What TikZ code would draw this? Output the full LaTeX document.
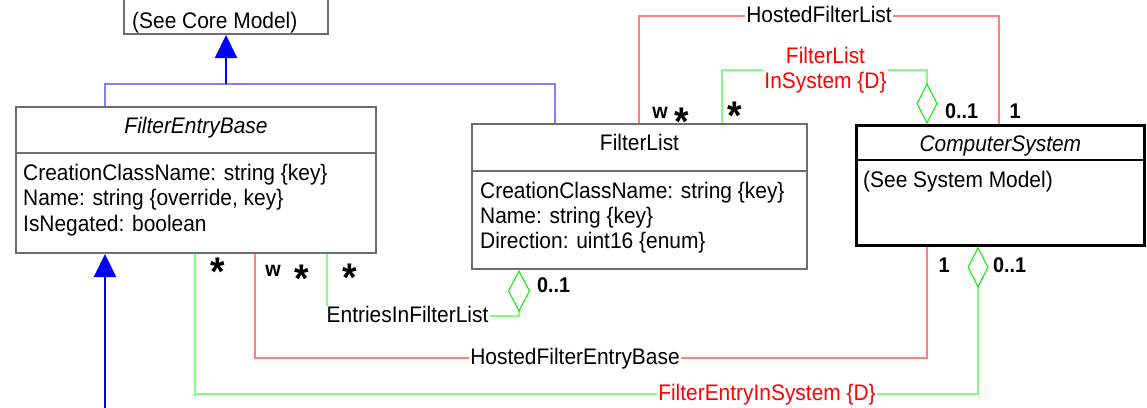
\documentclass[tikz,border=0pt]{standalone}
\usepackage{fontspec}
\setmainfont{Liberation Sans}[FakeStretch=0.93]
\usetikzlibrary{arrows.meta,calc}
\definecolor{boxgray}{RGB}{110,110,110}
\definecolor{genlight}{RGB}{128,128,255}
\definecolor{redl}{RGB}{255,128,128}
\definecolor{greenl}{RGB}{128,255,128}
\definecolor{dgreen}{RGB}{0,235,0}
\newcommand\umlstar{\raisebox{-17.2pt}[11.6pt][0pt]{*}}
\begin{document}
\begin{tikzpicture}[x=1pt,y=-1pt,
  classbox/.style={draw=boxgray,line width=2pt,inner sep=0pt,anchor=north west},
  sepline/.style={draw=boxgray,line width=2pt},
  txt/.style={font=\fontsize{22.5}{25.5}\selectfont,inner sep=0pt},
  ital/.style={font=\fontsize{22.5}{25.5}\selectfont\itshape,inner sep=0pt},
  lbl/.style={font=\fontsize{22.5}{25.5}\selectfont,inner ysep=0pt,inner xsep=1.5pt,text height=16pt,text depth=4pt},
  mult/.style={font=\fontsize{21.3}{21.3}\selectfont\bfseries,inner sep=0pt,anchor=base},
  star/.style={font=\fontsize{40}{40}\selectfont\bfseries,inner sep=0pt,anchor=center},
  genthin/.style={draw=genlight,line width=2pt},
  gen/.style={draw=blue,line width=2pt,-{Triangle[length=23pt,width=22pt]}},
  redc/.style={draw=redl,line width=2pt},
  greenc/.style={draw=greenl,line width=2pt},
  dia/.style={-{Diamond[open,length=41pt,width=21pt,line width=1pt,color=dgreen]}}
]
\useasboundingbox (0,0) rectangle (1147,407);

% class boxes
\node[classbox,minimum width=204pt,minimum height=38pt] (core) at (123,-5) {};
\node[classbox,minimum width=360pt,minimum height=146pt] (feb) at (15,106) {};
\node[classbox,minimum width=335pt,minimum height=145pt] (fl) at (471,123) {};
\node[classbox,draw=black,line width=2.7pt,minimum width=288pt,minimum height=120pt] (cs) at (855,124) {};

% separators
\draw[sepline] ($(feb.north west)+(0,47)$) -- ($(feb.north east)+(0,47)$);
\draw[sepline] ($(fl.north west)+(0,48)$) -- ($(fl.north east)+(0,48)$);
\draw[sepline,draw=black,line width=2.5pt] ($(cs.north west)+(0,36)$) -- ($(cs.north east)+(0,36)$);

% texts in boxes
\node[txt,anchor=base west] (coret) at ($(core.south west)+(9,-7)$) {(See Core Model)};
\node[ital,anchor=base] (febt) at ($(feb.north)+(0,27)$) {FilterEntryBase};
\node[txt,anchor=base west] (feba) at ($(feb.north west)+(8,74)$) {CreationClassName: string \{key\}};
\node[txt,anchor=base west] (febb) at ($(feb.north west)+(8,99.5)$) {Name: string \{override, key\}};
\node[txt,anchor=base west] (febc) at ($(feb.north west)+(8,125)$) {IsNegated: boolean};
\node[txt,anchor=base] (flt) at ($(fl.north)+(0,27)$) {FilterList};
\node[txt,anchor=base west] (fla) at ($(fl.north west)+(9,75)$) {CreationClassName: string \{key\}};
\node[txt,anchor=base west] (flb) at ($(fl.north west)+(9,100)$) {Name: string \{key\}};
\node[txt,anchor=base west] (flc) at ($(fl.north west)+(9,125)$) {Direction: uint16 \{enum\}};
\node[ital,anchor=base] (cst) at ($(cs.north)+(0,27)$) {ComputerSystem};
\node[txt,anchor=base west] (csa) at ($(cs.north west)+(8,63)$) {(See System Model)};

% generalization
\coordinate (gj) at ($(core.south)+(0,49)$);
\draw[genthin] ($(feb.north west)+(90,0)$) |- (gj) -| ($(fl.north west)+(84,0)$);
\draw[gen] (gj) -- (core.south);
\coordinate (gb) at ($(feb.south west)+(90,160)$);
\draw[gen] (gb) -- ($(feb.south west)+(90,0)$);

% HostedFilterList
\node[lbl] (hfl) at (819,16) {HostedFilterList};
\draw[redc] ($(fl.north west)+(168,0)$) |- (hfl.west);
\draw[redc] (hfl.east) -| ($(cs.north west)+(144,0)$);

% FilterListInSystem
\node[txt,text=red,align=center,inner xsep=1pt] (flis) at (825.5,70) {FilterList\\InSystem \{D\}};
\draw[greenc] ($(fl.north west)+(251,0)$) |- (flis.west);
\draw[greenc,dia] (flis.east) -| ($(cs.north west)+(72,0)$);

% EntriesInFilterList
\node[lbl,anchor=base west] (eifl) at (325,322) {EntriesInFilterList};
\coordinate (e1) at ($(feb.south west)+(312,0)$);
\draw[greenc] (e1) -- (e1 |- eifl.north);
\draw[greenc,-{Diamond[open,length=42pt,width=22pt,line width=1pt,color=dgreen]}] (eifl.east) -| ($(fl.south west)+(48,0)$);

% HostedFilterEntryBase
\node[lbl] (hfeb) at (575,358) {HostedFilterEntryBase};
\draw[redc] ($(feb.south west)+(240,0)$) |- (hfeb.west);
\draw[redc] (hfeb.east) -| ($(cs.south west)+(72,0)$);

% FilterEntryInSystem
\node[lbl,text=red] (feis) at (767,394) {FilterEntryInSystem \{D\}};
\draw[greenc] ($(feb.south west)+(180,0)$) |- (feis.west);
\draw[greenc,dia] (feis.east) -| ($(cs.south west)+(123,0)$);

% multiplicities
\node[mult] (m1) at (660,118) {w};
\node[star] (m2) at (682,112) {\umlstar};
\node[star] (m3) at (735,106) {\umlstar};
\node[mult,anchor=base west] (m4) at (945,118) {0..1};
\node[mult] (m5) at (1015,118) {1};
\node[star] (m6) at (218,262) {\umlstar};
\node[mult] (m7) at (273,276) {w};
\node[star] (m8) at (302,269) {\umlstar};
\node[star] (m9) at (350,268) {\umlstar};
\node[mult,anchor=base west] (m10) at (537,292) {0..1};
\node[mult] (m11) at (944,272) {1};
\node[mult,anchor=base west] (m12) at (993,272) {0..1};
\end{tikzpicture}
\end{document}
